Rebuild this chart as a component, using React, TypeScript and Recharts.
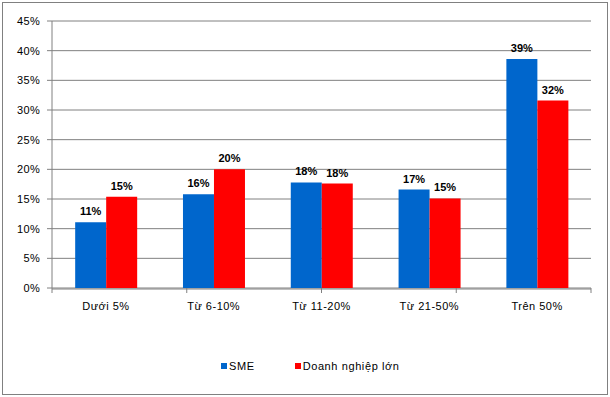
import { Bar, BarChart, CartesianGrid, LabelList, XAxis, YAxis } from "recharts";

const categories = ["Dưới 5%", "Từ 6-10%", "Từ 11-20%", "Từ 21-50%", "Trên 50%"];
const smeValues = [11.1, 15.8, 17.8, 16.6, 38.6];
const largeValues = [15.4, 20.0, 17.6, 15.1, 31.6];
const yTicks = [0, 5, 10, 15, 20, 25, 30, 35, 40, 45];
const boundaryTicks = [0, 1, 2, 3, 4, 5];

const series = [
  { key: "sme", name: "SME", color: "#0066CC" },
  { key: "large", name: "Doanh nghiệp lớn", color: "#FF0000" },
];

const data = categories.map((name, i) => ({
  name,
  sme: smeValues[i],
  large: largeValues[i],
}));

const FONT = '"Liberation Sans", Arial, sans-serif';
const AXIS_GRAY = "#808080";

const pct = (v: number) => `${Math.round(Number(v))}%`;

export default function App() {
  return (
    <div style={{ position: "absolute", left: 0, top: 0, width: 610, height: 397, fontFamily: FONT }}>
      <div
        style={{
          position: "absolute",
          left: 2,
          top: 2,
          width: 604,
          height: 391,
          border: `1px solid ${AXIS_GRAY}`,
        }}
      />
      <BarChart
        width={610}
        height={397}
        data={data}
        margin={{ top: 21, right: 19, left: 0, bottom: 78 }}
        barCategoryGap="21.5%"
        barGap={0}
        style={{ position: "absolute", left: 0, top: 0 }}
      >
        <CartesianGrid xAxisId="axisB" vertical={false} stroke={AXIS_GRAY} strokeWidth={1} />
        {/* boundary ticks between categories, like Excel */}
        <XAxis
          xAxisId="axisA"
          type="number"
          domain={[0, 5]}
          allowDataOverflow
          ticks={boundaryTicks}
          height={1}
          axisLine={false}
          tickSize={5}
          tickLine={{ stroke: AXIS_GRAY }}
          tickFormatter={() => ""}
        />
        <XAxis
          xAxisId="axisB"
          dataKey="name"
          height={30}
          axisLine={{ stroke: AXIS_GRAY }}
          tickLine={false}
          tickMargin={7}
          tick={{ fill: "#000", fontSize: 11, fontFamily: FONT, letterSpacing: 0.5 }}
          interval={0}
        />
        <YAxis
          width={52}
          domain={[0, 45]}
          ticks={yTicks}
          tickFormatter={(v) => `${v}%`}
          axisLine={{ stroke: AXIS_GRAY }}
          tickLine={{ stroke: AXIS_GRAY }}
          tickSize={5}
          tickMargin={7}
          tick={{ fill: "#000", fontSize: 11, fontFamily: FONT, letterSpacing: 0.3 }}
        />
        {series.map((s) => (
          <Bar key={s.key} xAxisId="axisB" dataKey={s.key} name={s.name} fill={s.color} isAnimationActive={false}>
            <LabelList
              dataKey={s.key}
              position="top"
              offset={7}
              formatter={(v: any) => pct(v)}
              style={{ fill: "#000", fontSize: 11, fontWeight: "bold", fontFamily: FONT }}
            />
          </Bar>
        ))}
      </BarChart>
      <div
        style={{
          position: "absolute",
          top: 359,
          left: 221,
          display: "flex",
          gap: 40,
          fontSize: 11,
          color: "#000",
          lineHeight: "14px",
          letterSpacing: 0.6,
        }}
      >
        {series.map((s) => (
          <div key={s.key} style={{ display: "flex", alignItems: "center" }}>
            <span style={{ width: 6, height: 6, background: s.color, marginRight: 2, display: "inline-block" }} />
            <span>{s.name}</span>
          </div>
        ))}
      </div>
    </div>
  );
}
